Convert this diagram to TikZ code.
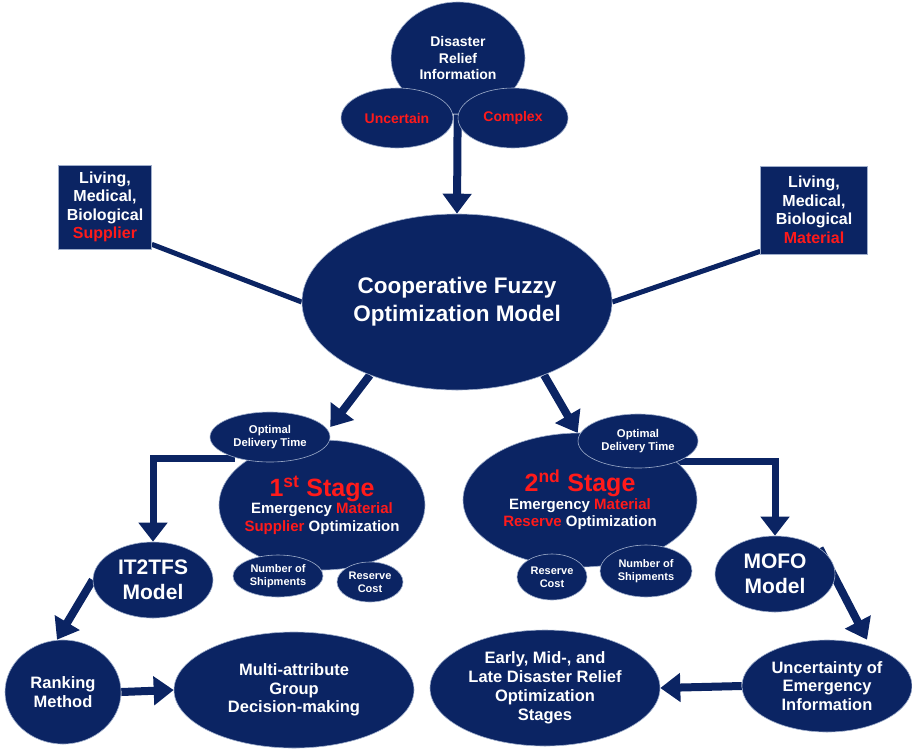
\documentclass[tikz,border=0pt]{standalone}
\usepackage{fontspec}
\setmainfont{Liberation Sans}
\usepackage{xcolor}
\usepackage{tikz}
\usetikzlibrary{shapes.geometric,arrows.meta,backgrounds,calc}
\definecolor{deepnavy}{HTML}{0B2463}
\definecolor{rim}{HTML}{9FAECB}
\definecolor{alert}{HTML}{FF1A1A}
\newcommand{\redword}[1]{\textcolor{alert}{#1}}
\newcommand{\txtsize}[2]{\bfseries\fontsize{#1}{#2}\selectfont}
\tikzset{
    bubble/.style={ellipse, draw=rim, line width=0.6pt, fill=deepnavy, text=white, align=center, inner sep=0pt},
    tag/.style={rectangle, draw=rim, line width=0.6pt, fill=deepnavy, text=white, align=center, inner sep=0pt, font=\txtsize{16}{18.5}},
    arrow/.style={-{Triangle[width=28pt,length=20pt]}, line width=8pt, color=deepnavy},
    elbow/.style={-{Triangle[width=28pt,length=19pt]}, line width=7pt, color=deepnavy},
    link/.style={line width=5pt, color=deepnavy}
}

\begin{document}
\begin{tikzpicture}[x=1pt, y=-1pt]
    \useasboundingbox (0,0) rectangle (912,753);
    % information source
    \node[bubble, minimum width=134, minimum height=112, font=\txtsize{14}{16.5}] (info) at (458,58) {Disaster\\Relief\\Information};
    \node[bubble, minimum width=112, minimum height=60, font=\txtsize{14}{16}] (uncert) at (397,118) {\redword{Uncertain}};
    \node[bubble, minimum width=110, minimum height=60, font=\txtsize{14}{16}] (complex) at (513,118) {\redword{Complex}};
    % model and its inputs
    \node[bubble, minimum width=310, minimum height=176, font=\txtsize{22.5}{28}] (coop) at (457,302) {Cooperative Fuzzy\\Optimization Model};
    \node[tag, minimum width=93, minimum height=84] (supp) at (105,207) {Living,\\Medical,\\Biological\\\redword{Supplier}};
    \node[tag, minimum width=107, minimum height=88] (mat) at (814,210) {Living,\\Medical,\\Biological\\\redword{Material}};
    % first stage
    \node[bubble, inner xsep=-12pt, minimum width=206, minimum height=130, font=\txtsize{15}{17.5}] (stage1) at (322,505) {{\txtsize{25}{28}\redword{1\textsuperscript{st} Stage}}\\Emergency \redword{Material}\\\redword{Supplier} Optimization};
    \node[bubble, minimum width=120, minimum height=50, font=\txtsize{11.3}{13}] (opt1) at (270,437) {Optimal\\Delivery Time};
    \node[bubble, minimum width=90, minimum height=42, font=\txtsize{11}{13}] (ship1) at (278,576) {Number of\\Shipments};
    \node[bubble, minimum width=66, minimum height=40, font=\txtsize{11}{13}] (cost1) at (370,582) {Reserve\\Cost};
    % second stage
    \node[bubble, minimum width=234, minimum height=134, font=\txtsize{15}{17.5}] (stage2) at (580,500) {{\txtsize{25}{28}\redword{2\textsuperscript{nd} Stage}}\\Emergency \redword{Material}\\\redword{Reserve} Optimization};
    \node[bubble, minimum width=120, minimum height=54, font=\txtsize{11.3}{13}] (opt2) at (638,441) {Optimal\\Delivery Time};
    \node[bubble, minimum width=70, minimum height=46, font=\txtsize{11}{13}] (cost2) at (552,577) {Reserve\\Cost};
    \node[bubble, minimum width=92, minimum height=52, font=\txtsize{11}{13}] (ship2) at (646,571) {Number of\\Shipments};
    % methods and results
    \node[bubble, minimum width=120, minimum height=76, font=\txtsize{21}{25}] (it2tfs) at (153,580) {IT2TFS\\Model};
    \node[bubble, minimum width=120, minimum height=76, font=\txtsize{21}{25}] (mofo) at (775,574) {MOFO\\Model};
    \node[bubble, minimum width=116, minimum height=104, font=\txtsize{16.5}{18.5}] (rank) at (63,692) {Ranking\\Method};
    \node[bubble, minimum width=240, minimum height=116, font=\txtsize{16.5}{18.5}] (magdm) at (294,690) {Multi-attribute\\Group\\Decision-making};
    \node[bubble, minimum width=230, minimum height=116, font=\txtsize{16.5}{19}] (stages) at (545,688) {Early, Mid-, and\\Late Disaster Relief\\Optimization\\Stages};
    \node[bubble, minimum width=170, minimum height=92, font=\txtsize{16.5}{18.5}] (uncinfo) at (827,686) {Uncertainty of\\Emergency\\Information};

    \begin{scope}[on background layer]
        \draw[arrow] (info) -- (coop.north);
        \draw[link] ([yshift=5pt]supp.south east) -- (coop.west);
        \draw[link] ([yshift=3pt]mat.south west) -- (coop.east);
        \draw[arrow] (coop.220) -- ([yshift=10pt]opt1.east);
        \draw[arrow] (coop.320) -- ([yshift=8pt]opt2.west);
        \draw[elbow] ([xshift=25pt,yshift=-21pt]opt1.west) -| (it2tfs.north);
        \draw[elbow] ([xshift=-25pt,yshift=-20pt]opt2.east) -| (mofo.north);
        \draw[arrow] (it2tfs.west) -- ([xshift=-6pt]rank.north);
        \draw[arrow] (rank.east) -- (magdm.west);
        \draw[arrow] (mofo.30) -- ([xshift=40pt]uncinfo.north);
        \draw[arrow] (uncinfo.west) -- (stages.east);
    \end{scope}
\end{tikzpicture}
\end{document}
